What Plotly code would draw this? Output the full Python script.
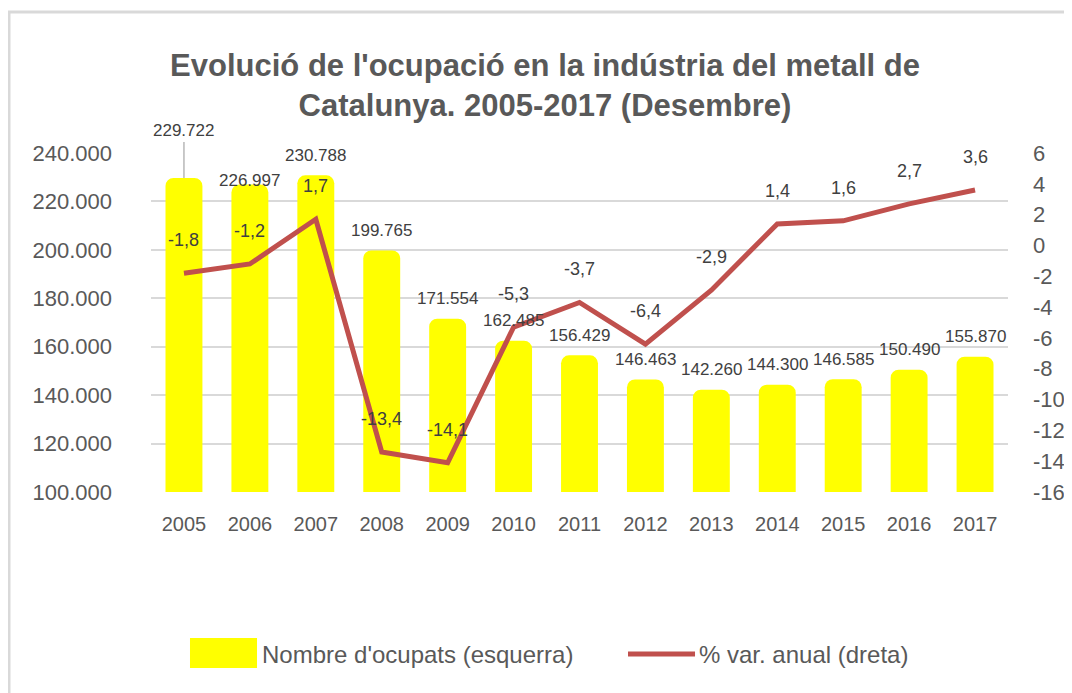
import plotly.graph_objects as go

years = ["2005", "2006", "2007", "2008", "2009", "2010", "2011",
         "2012", "2013", "2014", "2015", "2016", "2017"]
ocupats = [229722, 226997, 230788, 199765, 171554, 162485, 156429,
           146463, 142260, 144300, 146585, 150490, 155870]
var_anual = [-1.8, -1.2, 1.7, -13.4, -14.1, -5.3, -3.7,
             -6.4, -2.9, 1.4, 1.6, 2.7, 3.6]
right_ticks = [-16, -14, -12, -10, -8, -6, -4, -2, 0, 2, 4, 6]
right_tick_text = ["-16", "-14", "-12", "-10", "-8", "-6", "-4", "-2",
                   "0", "2", "4", "6"]
bar_name = "Nombre d'ocupats (esquerra)"
line_name = "% var. anual (dreta)"

FONT = "Liberation Sans, Arial"
TXT = "#595959"
LBL = "#404040"
YELLOW = "#FFFF00"
RED = "#C0504D"

fig = go.Figure()
fig.add_trace(go.Bar(
    x=years, y=ocupats, name=bar_name,
    marker=dict(color=YELLOW, cornerradius=8, line=dict(width=0)),
    yaxis="y", showlegend=False,
))
fig.add_trace(go.Scatter(
    x=years, y=var_anual, name=line_name,
    mode="lines", line=dict(color=RED, width=5),
    yaxis="y2", showlegend=False,
))

annotations = []
# bar data labels (x given as category index)
for i, v in enumerate(ocupats):
    txt = f"{v:,}".replace(",", ".")
    if i == 0:
        annotations.append(dict(x=i, y=v, xref="x", yref="y", text=txt,
                                showarrow=True, arrowhead=0, arrowwidth=1.2,
                                arrowcolor="#A6A6A6", ax=0, ay=-47,
                                font=dict(family=FONT, size=17, color=LBL)))
    else:
        shift = 4 if i == 1 else 20
        annotations.append(dict(x=i, y=v, xref="x", yref="y", text=txt,
                                showarrow=False, yshift=shift,
                                font=dict(family=FONT, size=17, color=LBL)))
# line data labels
for i, v in enumerate(var_anual):
    txt = f"{v:.1f}".replace(".", ",")
    annotations.append(dict(x=i, y=v, xref="x", yref="y2", text=txt,
                            showarrow=False, yshift=33,
                            font=dict(family=FONT, size=18, color=LBL)))

# custom legend (texts)
annotations.append(dict(x=0.1272, y=-0.478, xref="paper", yref="paper",
                        xanchor="left", yanchor="middle", showarrow=False,
                        text=bar_name, font=dict(family=FONT, size=24, color=TXT)))
annotations.append(dict(x=0.6371, y=-0.478, xref="paper", yref="paper",
                        xanchor="left", yanchor="middle", showarrow=False,
                        text=line_name, font=dict(family=FONT, size=24, color=TXT)))

shapes = [
    # chart frame
    dict(type="rect", xref="paper", yref="paper",
         x0=-0.1657, x1=1.2, y0=-0.8, y1=1.4159,
         line=dict(color="#D9D9D9", width=3), layer="below"),
    # legend symbols
    dict(type="rect", xref="paper", yref="paper",
         x0=0.0455, x1=0.1237, y0=-0.5192, y1=-0.4307,
         fillcolor=YELLOW, line=dict(width=0)),
    dict(type="line", xref="paper", yref="paper",
         x0=0.5566, x1=0.6348, y0=-0.478, y1=-0.478,
         line=dict(color=RED, width=5)),
]

fig.update_layout(
    width=1064, height=685,
    margin=dict(l=143, r=64, t=145, b=201, autoexpand=False),
    paper_bgcolor="white", plot_bgcolor="white",
    separators=",.",
    showlegend=False,
    font=dict(family=FONT, color=TXT),
    title=dict(
        text="<b>Evolució de l'ocupació en la indústria del metall de<br>Catalunya. 2005-2017 (Desembre)</b>",
        x=0.5047, xref="container", xanchor="center",
        y=0.9007, yref="container", yanchor="middle",
        font=dict(family=FONT, size=31, color=TXT),
    ),
    bargap=0.44,
    xaxis=dict(type="category", range=[-0.5, 12.5], showline=False, ticks="",
               tickfont=dict(size=20, color=TXT), showgrid=False,
               ticklabelstandoff=18),
    yaxis=dict(range=[100000, 240000], dtick=20000, tickformat=",d",
               showgrid=True, gridcolor="#D9D9D9", gridwidth=2,
               zeroline=False, showline=False, ticks="",
               tickfont=dict(size=22, color=TXT), ticklabelstandoff=38),
    yaxis2=dict(range=[-16, 6], tickvals=right_ticks, ticktext=right_tick_text,
                overlaying="y", side="right",
                showgrid=False, zeroline=False, showline=False, ticks="",
                tickfont=dict(size=22, color=TXT), ticklabelstandoff=24),
    annotations=annotations,
    shapes=shapes,
)

fig.write_html("out.html")
